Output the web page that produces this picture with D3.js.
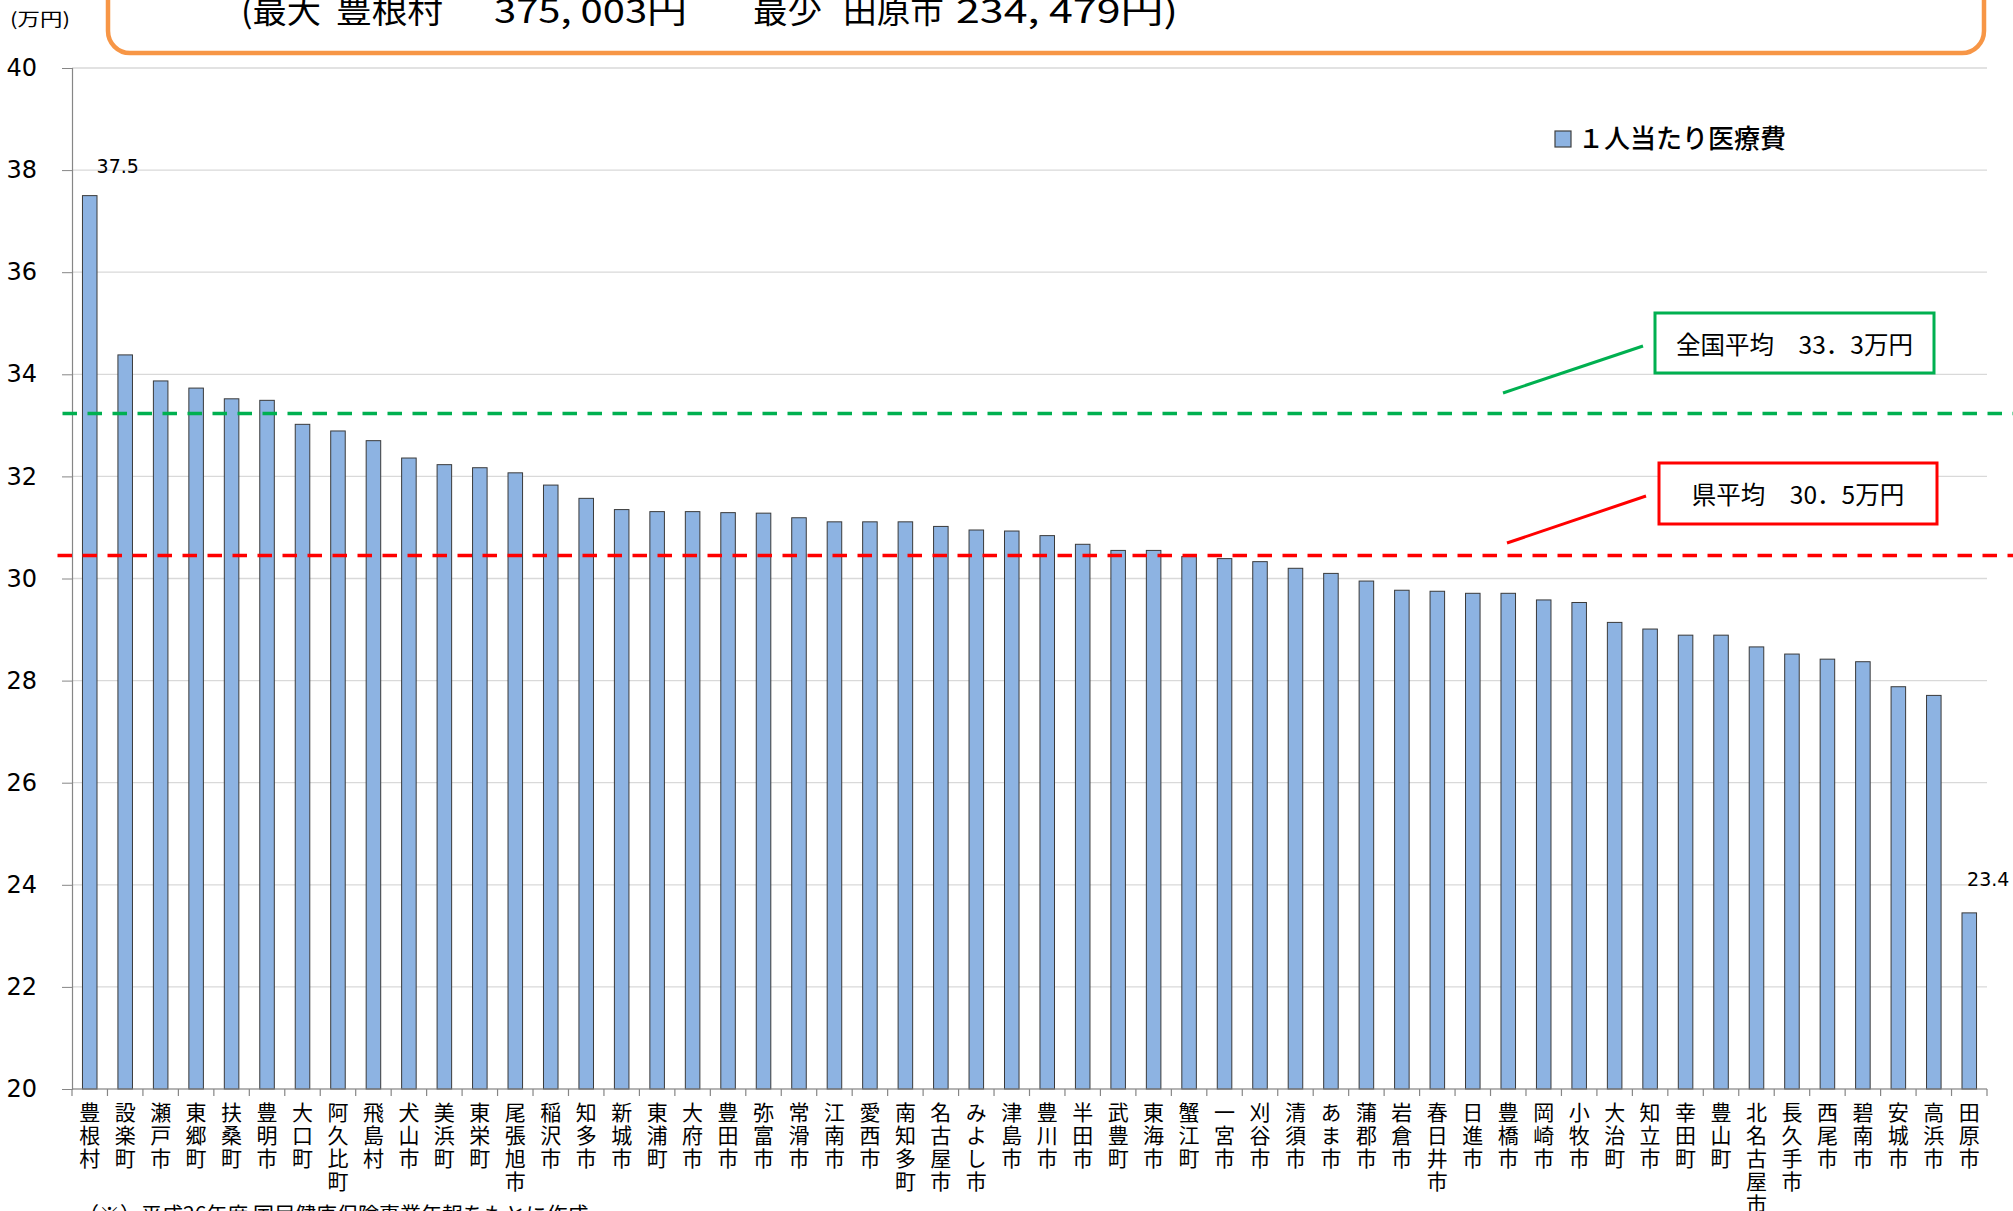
<!DOCTYPE html>
<html><head><meta charset="utf-8">
<script src="https://cdn.jsdelivr.net/npm/d3@7"></script>
<style>body{margin:0;background:#fff;overflow:hidden}svg{display:block}</style>
</head><body><svg id="c" width="2013" height="1211"></svg>
<script>
const categories = ["豊根村","設楽町","瀬戸市","東郷町","扶桑町","豊明市","大口町","阿久比町","飛島村","犬山市","美浜町","東栄町","尾張旭市","稲沢市","知多市","新城市","東浦町","大府市","豊田市","弥富市","常滑市","江南市","愛西市","南知多町","名古屋市","みよし市","津島市","豊川市","半田市","武豊町","東海市","蟹江町","一宮市","刈谷市","清須市","あま市","蒲郡市","岩倉市","春日井市","日進市","豊橋市","岡崎市","小牧市","大治町","知立市","幸田町","豊山町","北名古屋市","長久手市","西尾市","碧南市","安城市","高浜市","田原市"];
const values = [37.50,34.38,33.87,33.73,33.52,33.49,33.02,32.89,32.70,32.36,32.23,32.17,32.07,31.83,31.57,31.35,31.31,31.31,31.29,31.28,31.19,31.11,31.11,31.11,31.02,30.95,30.93,30.84,30.67,30.55,30.55,30.43,30.39,30.33,30.20,30.10,29.95,29.77,29.75,29.71,29.71,29.58,29.53,29.14,29.01,28.89,28.89,28.66,28.52,28.42,28.37,27.88,27.71,23.45];
const yTicks = [20,22,24,26,28,30,32,34,36,38,40];
const seriesName = "１人当たり医療費";
const nationalAvg = 33.23;
const prefAvg = 30.45;
const nationalText = "全国平均　33．3万円";
const prefText = "県平均　30．5万円";
const labeledIdx = [0, 53];
const labeledText = ["37.5", "23.4"];
const titlePieces = ["(最大", "豊根村", "375, 003円", "最少", "田原市", "234, 479円)"];
const unitText = "(万円)";
const noteText = "（※）平成26年度 国民健康保険事業年報をもとに作成";

const svg = d3.select("#c");
const JP = "'Noto Sans CJK JP','Noto Sans',sans-serif";
const NUM = "'DejaVu Sans',sans-serif";
const L = 72, R = 1987, T = 68, B = 1089;

const x = d3.scaleBand().domain(categories).range([L, R]).paddingInner(0.59).paddingOuter(0.295);
const y = d3.scaleLinear().domain([20, 40]).range([B, T]);
const step = x.step();

// gridlines
svg.append("g").selectAll("line").data(yTicks).join("line")
  .attr("x1", L).attr("x2", R).attr("y1", d => y(d)).attr("y2", d => y(d))
  .attr("stroke", "#d9d9d9").attr("stroke-width", 1.3);

// left axis
const yAxis = d3.axisLeft(y).tickValues(yTicks).tickSize(10).tickFormat(d3.format("d"));
const ga = svg.append("g").attr("transform", `translate(${L},0)`).call(yAxis);
ga.select(".domain").attr("stroke", "#868686").attr("stroke-width", 1.2);
ga.selectAll(".tick line").attr("stroke", "#868686");
ga.selectAll(".tick text").attr("font-family", NUM).attr("font-size", 24).attr("fill", "#000").attr("x", -35);

// bars
svg.append("g").selectAll("rect").data(values).join("rect")
  .attr("x", (d, i) => x(categories[i]))
  .attr("width", x.bandwidth())
  .attr("y", d => y(d))
  .attr("height", d => y(20) - y(d))
  .attr("fill", "#8db3e2").attr("stroke", "#3a3a3a").attr("stroke-width", 1);

// bottom axis
svg.append("line").attr("x1", L).attr("x2", R).attr("y1", B).attr("y2", B).attr("stroke", "#868686").attr("stroke-width", 1.2);
svg.append("g").selectAll("line").data(d3.range(categories.length + 1)).join("line")
  .attr("x1", i => L + i * step).attr("x2", i => L + i * step)
  .attr("y1", B).attr("y2", B + 7).attr("stroke", "#868686").attr("stroke-width", 1.2);

// category labels (vertical writing)
svg.append("g").selectAll("text").data(categories).join("text")
  .attr("x", c => x(c) + x.bandwidth() / 2)
  .attr("y", 1102)
  .attr("writing-mode", "vertical-rl")
  .style("writing-mode", "vertical-rl")
  .style("text-orientation", "upright")
  .attr("letter-spacing", 1.8)
  .attr("font-family", JP).attr("font-size", 21).attr("fill", "#000")
  .text(c => c);

// average lines
svg.append("line").attr("x1", 62.5).attr("x2", 2013).attr("y1", y(nationalAvg)).attr("y2", y(nationalAvg))
  .attr("stroke", "#00b050").attr("stroke-width", 3.5).attr("stroke-dasharray", "14.5,10.5");
svg.append("line").attr("x1", 57.5).attr("x2", 2013).attr("y1", y(prefAvg)).attr("y2", y(prefAvg))
  .attr("stroke", "#ff0000").attr("stroke-width", 3.5).attr("stroke-dasharray", "14.5,10.5");

// data labels
labeledIdx.forEach((idx, j) => {
  const cx = x(categories[idx]) + x.bandwidth() / 2;
  const off = j === 0 ? 28 : 19;
  svg.append("text").attr("x", cx + off).attr("y", y(values[idx]) - (j === 0 ? 23 : 27))
    .attr("text-anchor", "middle").attr("font-family", NUM).attr("font-size", 19).attr("fill", "#000")
    .text(labeledText[j]);
});

// legend
svg.append("rect").attr("x", 1555).attr("y", 131).attr("width", 16).attr("height", 16)
  .attr("fill", "#8db3e2").attr("stroke", "#404040").attr("stroke-width", 1.2);
svg.append("text").attr("x", 1578).attr("y", 148).attr("font-family", JP).attr("font-size", 26)
  .attr("font-weight", 500).attr("fill", "#000").text(seriesName);

// callouts
function callout(bx, by, bw, bh, color, txt, lx1, ly1, lx2, ly2) {
  svg.append("line").attr("x1", lx1).attr("y1", ly1).attr("x2", lx2).attr("y2", ly2)
    .attr("stroke", color).attr("stroke-width", 3);
  svg.append("rect").attr("x", bx).attr("y", by).attr("width", bw).attr("height", bh)
    .attr("fill", "#fff").attr("stroke", color).attr("stroke-width", 3);
  svg.append("text").attr("x", bx + bw / 2).attr("y", by + bh / 2).attr("text-anchor", "middle")
    .attr("dominant-baseline", "central").attr("font-family", JP).attr("font-size", 24.5).attr("fill", "#000").text(txt);
}
callout(1655, 313, 279, 60, "#00b050", nationalText, 1503, 393, 1643, 346);
callout(1659, 463, 278, 61, "#ff0000", prefText, 1507, 543, 1646, 496);

// title box
svg.append("rect").attr("x", 108).attr("y", -40).attr("width", 1876).attr("height", 93).attr("rx", 22)
  .attr("fill", "#fff").attr("stroke", "#f79646").attr("stroke-width", 4.5);
const tpos = [[241, 80], [336, 107], [494, 193], [753, 69], [843, 101], [956, 222]];
titlePieces.forEach((t, i) => {
  svg.append("text").attr("x", tpos[i][0]).attr("y", 23).attr("textLength", tpos[i][1])
    .attr("lengthAdjust", "spacingAndGlyphs").attr("font-family", JP).attr("font-size", 33).attr("fill", "#000").text(t);
});

// unit label
svg.append("text").attr("x", 10).attr("y", 26).attr("textLength", 60).attr("lengthAdjust", "spacingAndGlyphs")
  .attr("font-family", JP).attr("font-size", 18).attr("fill", "#000").text(unitText);

// note
svg.append("text").attr("x", 78).attr("y", 1222).attr("font-family", JP).attr("font-size", 21).attr("fill", "#000").text(noteText);
</script></body></html>
